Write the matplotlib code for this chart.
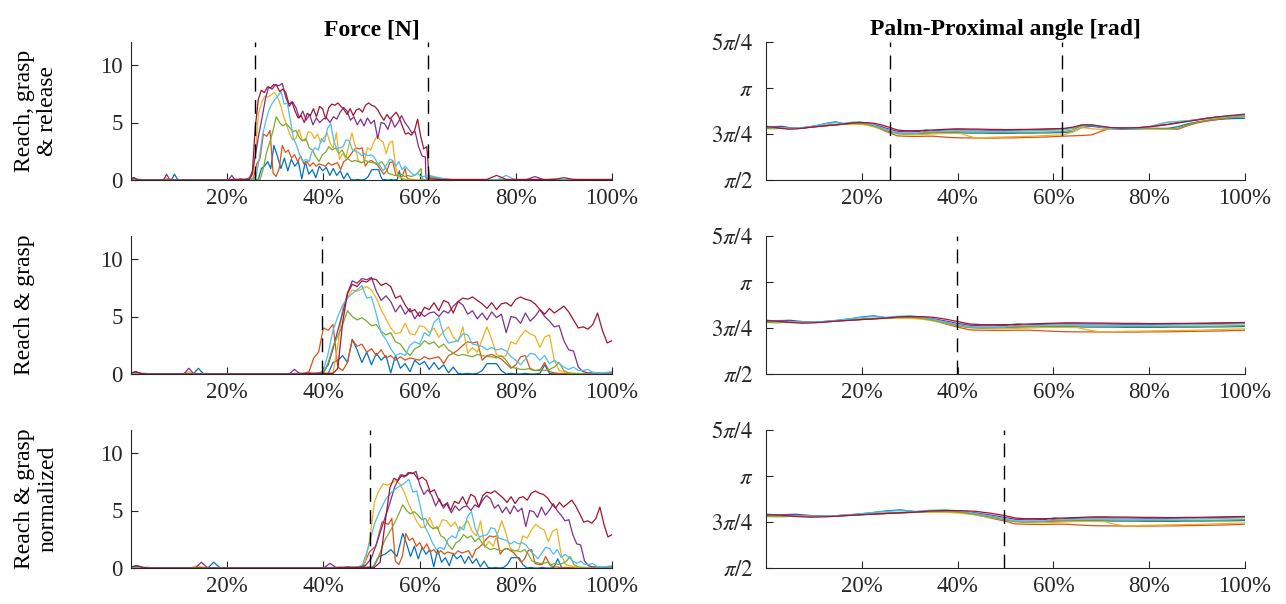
"""Force and palm-proximal angle over normalised trial time, three segmentations."""
import numpy as np
import matplotlib
matplotlib.use("Agg")
import matplotlib.pyplot as plt

plt.rcParams["font.family"] = ["Liberation Serif", "DejaVu Serif"]
plt.rcParams["mathtext.fontset"] = "stix"

# MATLAB default colour order, one per trial
COLORS = ["#0072BD", "#D95319", "#EDB120", "#7E2F8E", "#77AC30", "#4DBEEE", "#A2142F"]

ROW_LABELS = ["Reach, grasp\n& release", "Reach & grasp", "Reach & grasp\nnormalized"]
EVENTS = [[25.8, 61.8], [39.8], [49.7]]   # dashed phase markers per row (%)
XTICKS = [20, 40, 60, 80, 100]

# ---- force [N], sampled every 1 % of the reach & grasp segment (row 2 time) ----
G = np.arange(101)

F_BLUE = [0.05, 0.1, 0.05, 0.05, 0, 0, 0, 0, 0, 0,
          0, 0, 0, 0, 0.5, 0.05, 0, 0, 0, 0,
          0, 0, 0, 0, 0, 0, 0, 0, 0, 0,
          0, 0, 0, 0, 0.05, 0.05, 0.05, 0.05, 0.05, 0.05,
          0.05, 0.05, 1.0, 1.2, 1.6, 1.0, 3.0, 2.1, 1.0, 1.9,
          0.8, 1.8, 1.2, 1.6, 0.1, 1.6, 0.5, 0.9, 0.2, 1.2,
          0.8, 1.1, 0.4, 1.0, 0.4, 0.8, 0.1, 0.6, 0.05, 0,
          0.05, 0, 0.05, 0.3, 0.9, 0.9, 0.9, 0.3, 0, 0.05,
          0, 0, 0.05, 0, 0, 0.05, 0.8, 0.05, 0, 0,
          0, 0.05, 0, 0, 0, 0, 0, 0.05, 0, 0, 0.1]
F_ORANGE = [0.05, 0.05, 0, 0, 0, 0, 0, 0, 0, 0,
            0, 0, 0.05, 0, 0, 0, 0, 0, 0, 0,
            0, 0, 0, 0, 0, 0, 0, 0, 0, 0,
            0, 0, 0, 0, 0, 0.05, 0.05, 0.2, 1.4, 1.9,
            4.0, 3.8, 4.3, 0.6, 0.3, 1.0, 3.0, 2.4, 2.6, 1.9,
            2.2, 1.6, 2.1, 1.4, 1.6, 1.2, 1.5, 1.2, 1.4, 1.3,
            1.2, 1.5, 1.3, 1.4, 1.5, 0.9, 1.6, 1.8, 2.1, 2.5,
            2.8, 2.7, 2.8, 1.2, 1.6, 1.7, 1.5, 1.3, 0.9, 0.5,
            0.8, 1.5, 1.6, 0.4, 0.3, 0.3, 1.0, 0.2, 0.1, 0.05,
            0.05, 0.05, 0, 0, 0, 0, 0, 0, 0, 0, 0]
F_YELLOW = [0, 0, 0, 0, 0, 0, 0, 0, 0, 0,
            0, 0.05, 0.2, 0.05, 0, 0, 0, 0, 0, 0,
            0, 0, 0, 0, 0, 0, 0, 0, 0, 0,
            0, 0, 0, 0, 0, 0, 0, 0, 0, 0.05,
            0.05, 0.05, 0.1, 2.5, 5.8, 6.7, 7.3, 7.2, 7.4, 7.6,
            7.3, 6.6, 5.6, 4.8, 4.0, 3.5, 3.6, 4.4, 3.5, 3.4,
            4.2, 4.1, 3.6, 4.0, 3.2, 3.7, 4.1, 3.2, 2.8, 4.1,
            1.8, 2.3, 1.9, 3.0, 4.1, 3.0, 1.7, 1.5, 1.6, 2.8,
            2.6, 3.3, 3.8, 3.5, 3.3, 2.3, 3.2, 3.4, 1.2, 0.3,
            0.2, 0.1, 0.05, 0.05, 0, 0, 0.05, 0, 0, 0, 0.05]
F_PURPLE = [0.05, 0.2, 0.05, 0, 0, 0, 0, 0, 0, 0,
            0, 0, 0.5, 0.05, 0, 0, 0, 0, 0, 0,
            0, 0, 0, 0, 0, 0, 0, 0, 0, 0,
            0, 0, 0, 0.05, 0.4, 0.05, 0, 0.1, 0, 0.1,
            0.2, 0.8, 2.2, 3.8, 5.3, 7.0, 8.1, 7.9, 8.3, 8.2,
            8.4, 7.2, 6.4, 6.8, 6.3, 5.4, 6.0, 5.2, 5.7, 4.8,
            5.4, 5.0, 5.3, 5.4, 5.0, 5.5, 5.3, 5.9, 6.3, 6.0,
            5.2, 5.5, 4.8, 5.3, 4.7, 5.4, 4.9, 5.2, 3.6, 5.0,
            4.9, 4.4, 5.3, 4.6, 5.0, 5.6, 5.0, 4.6, 4.1, 4.2,
            2.9, 2.1, 2.0, 0.6, 0.2, 0.1, 0.1, 0.1, 0.05, 0.1, 0.1]
F_GREEN = [0.05, 0.05, 0, 0, 0, 0, 0, 0, 0, 0,
           0, 0, 0, 0, 0, 0, 0, 0, 0, 0,
           0, 0, 0, 0, 0, 0, 0, 0, 0, 0,
           0, 0, 0, 0, 0, 0, 0.05, 0.05, 0.05, 0.05,
           0.05, 1.0, 2.4, 3.3, 4.3, 5.5, 5.0, 4.7, 4.9, 4.6,
           4.2, 4.3, 3.7, 3.4, 3.6, 2.8, 2.6, 2.0, 1.6, 2.2,
           2.4, 2.9, 2.6, 2.8, 2.3, 2.6, 2.1, 1.8, 1.6, 1.7,
           1.6, 1.5, 1.7, 1.6, 1.5, 1.5, 1.4, 1.6, 1.2, 0.6,
           0.5, 0.4, 0.4, 0.5, 0.3, 0.4, 0.3, 0.4, 0.6, 1.0,
           0.3, 0.1, 0.05, 0.05, 0, 0, 0, 0, 0, 0, 0]
F_CYAN = [0, 0, 0, 0, 0, 0, 0, 0, 0, 0,
          0, 0, 0, 0, 0, 0.05, 0, 0, 0, 0,
          0, 0, 0, 0, 0, 0, 0, 0, 0, 0,
          0, 0, 0, 0, 0, 0, 0.05, 0.05, 0.05, 0.05,
          0.3, 1.8, 3.8, 5.0, 6.0, 6.6, 7.0, 7.3, 7.7, 6.6,
          6.7, 5.2, 3.6, 3.0, 2.2, 1.6, 1.8, 1.6, 2.5, 2.8,
          2.6, 3.6, 3.3, 4.5, 4.9, 3.4, 2.7, 2.8, 2.9, 3.5,
          3.4, 2.6, 2.5, 2.4, 2.1, 2.3, 2.1, 2.2, 2.0, 1.5,
          1.2, 0.8, 1.3, 1.8, 1.7, 1.2, 1.6, 0.9, 1.2, 0.9,
          0.6, 0.4, 0.6, 0.3, 0.3, 0.4, 0.15, 0.1, 0.1, 0.15, 0.2]
F_RED = [0.1, 0.2, 0.05, 0, 0, 0, 0, 0, 0, 0,
         0, 0, 0, 0, 0, 0, 0, 0, 0, 0,
         0, 0, 0, 0, 0, 0, 0, 0, 0, 0,
         0, 0, 0, 0, 0, 0, 0.05, 0.05, 0.05, 0.05,
         0.05, 0.05, 0.05, 0.5, 4.5, 7.0, 7.8, 7.6, 8.1, 8.0,
         8.3, 8.2, 7.7, 7.9, 7.6, 6.6, 6.8, 6.0, 5.4, 5.6,
         5.0, 5.8, 5.6, 6.2, 5.5, 6.4, 6.2, 5.3, 6.3, 6.6,
         6.5, 6.7, 6.4, 6.1, 5.7, 6.2, 5.6, 6.1, 6.2, 5.9,
         6.5, 6.7, 6.5, 6.4, 6.1, 5.6, 5.2, 5.7, 5.3, 5.6,
         5.9, 5.4, 4.7, 4.0, 4.1, 3.9, 4.3, 5.3, 3.8, 2.7, 2.9]
FORCE = [F_BLUE, F_ORANGE, F_YELLOW, F_PURPLE, F_GREEN, F_CYAN, F_RED]

# release phase, only present in row 1 (full-trial time, %)
REL_X = [62, 64, 66, 68, 70, 72, 74, 76, 78, 80, 82, 84, 86, 88, 90, 92, 94, 96, 98, 100]
FR_BLUE = [0.05, 0, 0, 0, 0, 0, 0, 0, 0, 0, 0, 0, 0, 0, 0, 0, 0, 0, 0, 0]
FR_ORANGE = [0.1, 0.05, 0, 0, 0, 0, 0, 0, 0, 0, 0, 0, 0, 0, 0, 0.05, 0, 0, 0, 0]
FR_YELLOW = [0.05, 0, 0, 0, 0, 0, 0, 0, 0, 0, 0, 0, 0, 0, 0, 0, 0, 0, 0, 0]
FR_PURPLE = [0.3, 0.1, 0.05, 0, 0, 0, 0, 0, 0, 0, 0, 0.3, 0, 0, 0, 0, 0, 0, 0, 0]
FR_GREEN = [0.3, 0.1, 0, 0, 0, 0, 0, 0, 0, 0, 0, 0, 0, 0.1, 0, 0, 0, 0, 0, 0]
FR_CYAN = [0.4, 0.2, 0.05, 0, 0, 0, 0, 0, 0.4, 0, 0, 0, 0, 0, 0, 0, 0, 0, 0, 0]
FR_RED = [0.1, 0.05, 0.05, 0.05, 0.05, 0.05, 0.05, 0.4, 0.05, 0.05,
          0.05, 0.05, 0.05, 0.05, 0.2, 0.05, 0.05, 0.05, 0.05, 0.05]
FORCE_REL = [FR_BLUE, FR_ORANGE, FR_YELLOW, FR_PURPLE, FR_GREEN, FR_CYAN, FR_RED]

# per-trial time anchors: row-2 time -> row-1 / row-3 time
W1_G = [[0, 46, 76, 100], [0, 42, 86, 100], [0, 44, 88, 100], [0, 43, 92, 100],
        [0, 45, 89, 100], [0, 48, 95, 100], [0, 43.5, 100]]
W1_X = [[0, 29.7, 51.5, 61.8], [0, 28.9, 57, 61.8], [0, 26.5, 55, 61.8], [0, 26.5, 61.2, 61.8],
        [0, 30.2, 60.3, 61.8], [0, 31.2, 61.5, 61.8], [0, 25.5, 61.5]]
W3_G = [[0, 46, 100], [0, 41, 86, 100], [0, 43.5, 100], [0, 46, 100],
        [0, 45, 100], [0, 48, 100], [0, 44, 100]]
W3_X = [[0, 56.5, 100], [0, 53.5, 86.2, 100], [0, 50.2, 100], [0, 56, 100],
        [0, 56.5, 100], [0, 57.8, 100], [0, 53, 100]]

# ---- palm-proximal angle [x pi rad], every 2.5 % of row 2 time ----
G_ANG = np.arange(0, 100.1, 2.5)
A_BLUE = [0.792, 0.788, 0.784, 0.780, 0.781, 0.786, 0.792, 0.800, 0.810, 0.816, 0.806,
          0.810, 0.814, 0.808, 0.795, 0.780, 0.765, 0.755, 0.752, 0.752, 0.753, 0.755,
          0.756, 0.757, 0.757, 0.757, 0.756, 0.755, 0.755, 0.755, 0.754, 0.754, 0.754,
          0.754, 0.755, 0.755, 0.755, 0.756, 0.756, 0.757, 0.758]
A_ORANGE = [0.790, 0.786, 0.782, 0.781, 0.782, 0.785, 0.790, 0.795, 0.798, 0.801, 0.803,
            0.806, 0.806, 0.802, 0.790, 0.772, 0.755, 0.740, 0.738, 0.737, 0.737, 0.738,
            0.738, 0.735, 0.732, 0.730, 0.729, 0.729, 0.728, 0.728, 0.728, 0.728, 0.729,
            0.729, 0.730, 0.731, 0.732, 0.733, 0.734, 0.736, 0.738]
A_YELLOW = [0.786, 0.784, 0.782, 0.781, 0.782, 0.785, 0.789, 0.793, 0.797, 0.800, 0.802,
            0.803, 0.803, 0.798, 0.788, 0.775, 0.762, 0.752, 0.748, 0.746, 0.747, 0.748,
            0.750, 0.752, 0.753, 0.753, 0.752, 0.738, 0.728, 0.730, 0.732, 0.733, 0.734,
            0.735, 0.736, 0.737, 0.738, 0.740, 0.742, 0.744, 0.745]
A_PURPLE = [0.788, 0.790, 0.792, 0.785, 0.780, 0.783, 0.788, 0.792, 0.796, 0.800, 0.804,
            0.808, 0.810, 0.809, 0.800, 0.788, 0.775, 0.765, 0.762, 0.762, 0.764, 0.766,
            0.768, 0.770, 0.772, 0.773, 0.773, 0.772, 0.772, 0.771, 0.770, 0.770, 0.770,
            0.770, 0.771, 0.772, 0.773, 0.774, 0.775, 0.776, 0.777]
A_GREEN = [0.780, 0.778, 0.782, 0.783, 0.782, 0.785, 0.789, 0.794, 0.798, 0.802, 0.805,
           0.808, 0.808, 0.803, 0.792, 0.777, 0.762, 0.752, 0.750, 0.751, 0.754, 0.757,
           0.759, 0.760, 0.761, 0.762, 0.762, 0.761, 0.760, 0.760, 0.759, 0.759, 0.759,
           0.759, 0.759, 0.759, 0.760, 0.760, 0.761, 0.762, 0.763]
A_CYAN = [0.789, 0.787, 0.784, 0.781, 0.782, 0.786, 0.792, 0.800, 0.808, 0.812, 0.808,
          0.814, 0.816, 0.810, 0.797, 0.782, 0.768, 0.757, 0.754, 0.755, 0.756, 0.774,
          0.764, 0.765, 0.766, 0.767, 0.767, 0.766, 0.766, 0.765, 0.765, 0.765, 0.765,
          0.766, 0.766, 0.767, 0.768, 0.769, 0.770, 0.771, 0.772]
A_RED = [0.790, 0.787, 0.780, 0.776, 0.778, 0.783, 0.788, 0.792, 0.796, 0.800, 0.804,
         0.810, 0.812, 0.812, 0.808, 0.798, 0.785, 0.772, 0.768, 0.768, 0.768, 0.770,
         0.772, 0.774, 0.776, 0.778, 0.778, 0.777, 0.777, 0.776, 0.775, 0.775, 0.774,
         0.774, 0.775, 0.775, 0.776, 0.777, 0.778, 0.779, 0.780]
ANGLE = [A_BLUE, A_ORANGE, A_YELLOW, A_PURPLE, A_GREEN, A_CYAN, A_RED]

# release-phase angle, row 1 only (on REL_X)
AR_BLUE = [0.758, 0.762, 0.785, 0.792, 0.785, 0.778, 0.776, 0.777, 0.778, 0.780,
           0.780, 0.781, 0.790, 0.805, 0.815, 0.822, 0.828, 0.832, 0.834, 0.835]
AR_ORANGE = [0.738, 0.740, 0.742, 0.745, 0.765, 0.782, 0.784, 0.785, 0.784, 0.782,
             0.780, 0.778, 0.776, 0.795, 0.810, 0.820, 0.828, 0.835, 0.840, 0.845]
AR_YELLOW = [0.745, 0.760, 0.785, 0.778, 0.775, 0.778, 0.780, 0.782, 0.783, 0.785,
             0.800, 0.815, 0.818, 0.822, 0.828, 0.834, 0.840, 0.845, 0.848, 0.850]
AR_PURPLE = [0.777, 0.782, 0.795, 0.797, 0.790, 0.783, 0.782, 0.783, 0.785, 0.790,
             0.796, 0.803, 0.812, 0.820, 0.828, 0.836, 0.842, 0.846, 0.850, 0.855]
AR_GREEN = [0.763, 0.772, 0.795, 0.797, 0.790, 0.782, 0.779, 0.779, 0.779, 0.778,
            0.777, 0.778, 0.782, 0.800, 0.815, 0.825, 0.832, 0.838, 0.842, 0.845]
AR_CYAN = [0.772, 0.782, 0.800, 0.798, 0.788, 0.780, 0.780, 0.782, 0.784, 0.788,
           0.805, 0.815, 0.818, 0.822, 0.828, 0.834, 0.840, 0.845, 0.848, 0.850]
AR_RED = [0.780, 0.787, 0.800, 0.800, 0.792, 0.785, 0.782, 0.783, 0.785, 0.790,
          0.795, 0.802, 0.810, 0.818, 0.826, 0.835, 0.842, 0.848, 0.853, 0.858]
ANGLE_REL = [AR_BLUE, AR_ORANGE, AR_YELLOW, AR_PURPLE, AR_GREEN, AR_CYAN, AR_RED]

# common time map for the angle traces: row 2 time -> row time
ANG_MAP_G = [0, 39.8, 100]
ANG_MAP_X = [[0, 25.8, 61.8], [0, 39.8, 100], [0, 49.7, 100]]


def style_axes(ax):
    ax.spines[["top", "right"]].set_visible(False)
    for side in ("left", "bottom"):
        ax.spines[side].set_color("#262626")
        ax.spines[side].set_linewidth(0.8)
    ax.tick_params(direction="in", length=5, width=0.8, colors="#262626",
                   labelsize=16.5, pad=6)
    ax.set_xlim(0, 100)
    ax.set_xticks(XTICKS)
    ax.set_xticklabels([f"{t}%" for t in XTICKS])


fig = plt.figure(figsize=(12.86, 6.04), dpi=100)
lefts = [131 / 1286, 766 / 1286]
widths = [481 / 1286, 479 / 1286]
bottoms = [1 - 180 / 604, 1 - 374 / 604, 1 - 568 / 604]
height = 138 / 604

for r in range(3):
    axf = fig.add_axes([lefts[0], bottoms[r], widths[0], height])
    axa = fig.add_axes([lefts[1], bottoms[r], widths[1], height])

    for i, c in enumerate(COLORS):
        f = np.asarray(FORCE[i], dtype=float)
        a = np.asarray(ANGLE[i], dtype=float) * np.pi
        xa = np.interp(G_ANG, ANG_MAP_G, ANG_MAP_X[r])
        if r == 0:
            xf = np.interp(G, W1_G[i], W1_X[i])
            xf = np.concatenate([xf, REL_X])
            f = np.concatenate([f, FORCE_REL[i]])
            xa = np.concatenate([xa, REL_X])
            a = np.concatenate([a, np.asarray(ANGLE_REL[i]) * np.pi])
        elif r == 1:
            xf = G
        else:
            xf = np.interp(G, W3_G[i], W3_X[i])
        axf.plot(xf, f, color=c, lw=0.9)
        axa.plot(xa, a, color=c, lw=0.9)

    for ax in (axf, axa):
        style_axes(ax)
        for ev in EVENTS[r]:
            ax.axvline(ev, color="k", lw=1.0, dashes=(10, 6), zorder=5)

    axf.set_ylim(0, 12)
    axf.set_yticks([0, 5, 10])
    axa.set_ylim(np.pi / 2, 5 * np.pi / 4)
    axa.set_yticks([np.pi / 2, 3 * np.pi / 4, np.pi, 5 * np.pi / 4])
    axa.set_yticklabels([r"$\pi/2$", r"$3\pi/4$", r"$\pi$", r"$5\pi/4$"])
    axa.tick_params(axis="y", pad=9)

    if r == 0:
        axf.set_title("Force [N]", fontsize=17, fontweight="bold", pad=5)
        axa.set_title("Palm-Proximal angle [rad]", fontsize=17, fontweight="bold", pad=5)

    fig.text(14 / 1286, bottoms[r] + height / 2, ROW_LABELS[r], rotation=90,
             ha="left", va="center", multialignment="center", fontsize=17,
             linespacing=1.15)

fig.savefig("out.png", dpi=100)
plt.close(fig)
